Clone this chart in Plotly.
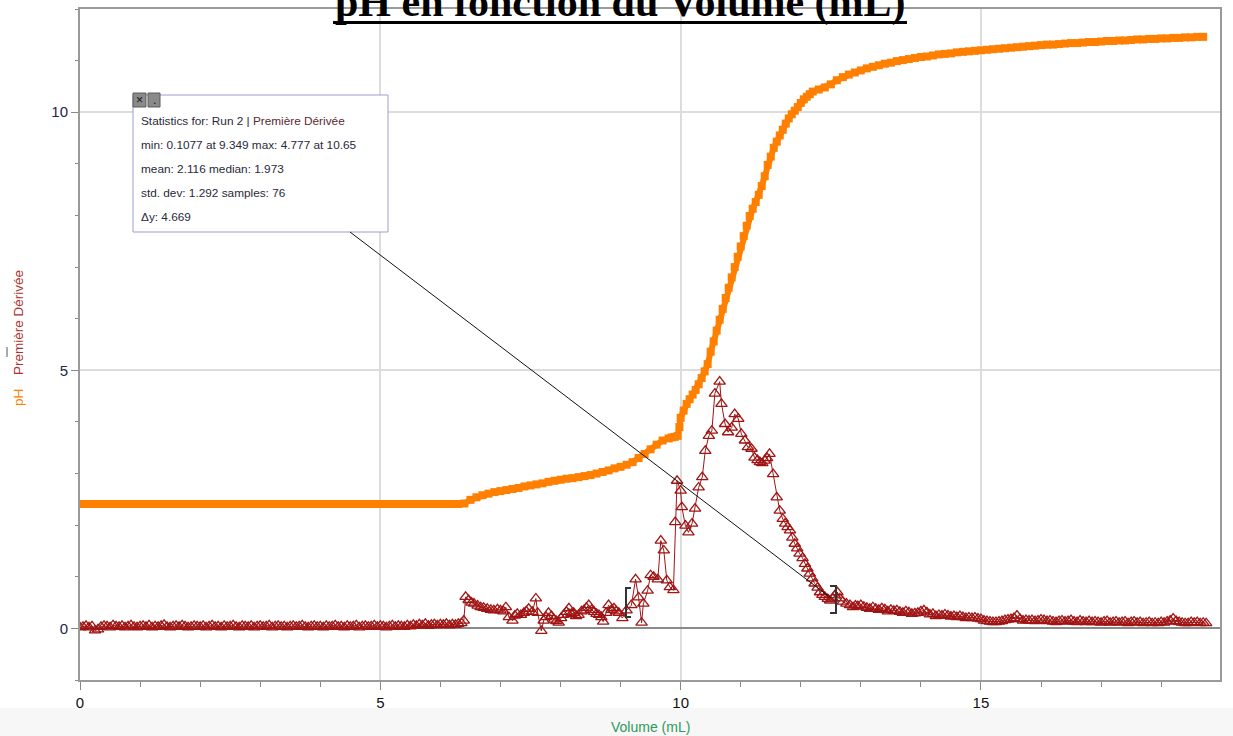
import plotly.graph_objects as go

# ---------------- data ----------------
vol_ph = [
    0.0, 0.1, 0.2, 0.3, 0.4, 0.5, 0.6, 0.7, 0.8, 0.9,
    1.0, 1.1, 1.2, 1.3, 1.4, 1.5, 1.6, 1.7, 1.8, 1.9,
    2.0, 2.1, 2.2, 2.3, 2.4, 2.5, 2.6, 2.7, 2.8, 2.9,
    3.0, 3.1, 3.2, 3.3, 3.4, 3.5, 3.6, 3.7, 3.8, 3.9,
    4.0, 4.1, 4.2, 4.3, 4.4, 4.5, 4.6, 4.7, 4.8, 4.9,
    5.0, 5.1, 5.2, 5.3, 5.4, 5.5, 5.6, 5.7, 5.8, 5.9,
    6.0, 6.1, 6.2, 6.3, 6.4, 6.5, 6.6, 6.7, 6.8, 6.9,
    7.0, 7.1, 7.2, 7.3, 7.4, 7.5, 7.6, 7.7, 7.8, 7.9,
    8.0, 8.1, 8.2, 8.3, 8.4, 8.5, 8.6, 8.7, 8.8, 8.9,
    9.0, 9.1, 9.2, 9.3, 9.4, 9.5, 9.6, 9.7, 9.8, 9.85,
    9.9, 9.95, 9.98, 10.0, 10.05, 10.1, 10.15, 10.2, 10.25, 10.3,
    10.35, 10.4, 10.45, 10.5, 10.55, 10.6, 10.65, 10.7, 10.75, 10.8,
    10.85, 10.9, 10.95, 11.0, 11.05, 11.1, 11.15, 11.2, 11.25, 11.3,
    11.35, 11.4, 11.45, 11.5, 11.55, 11.6, 11.65, 11.7, 11.75, 11.8,
    11.85, 11.9, 11.95, 12.0, 12.05, 12.1, 12.15, 12.2, 12.3, 12.4,
    12.5, 12.6, 12.7, 12.8, 12.9, 13.0, 13.1, 13.2, 13.3, 13.4,
    13.5, 13.6, 13.7, 13.8, 13.9, 14.0, 14.1, 14.2, 14.3, 14.4,
    14.5, 14.6, 14.7, 14.8, 14.9, 15.0, 15.1, 15.2, 15.3, 15.4,
    15.5, 15.6, 15.7, 15.8, 15.9, 16.0, 16.1, 16.2, 16.3, 16.4,
    16.5, 16.6, 16.7, 16.8, 16.9, 17.0, 17.1, 17.2, 17.3, 17.4,
    17.5, 17.6, 17.7, 17.8, 17.9, 18.0, 18.1, 18.2, 18.3, 18.4,
    18.5, 18.6, 18.7,
]
ph = [
    2.41, 2.41, 2.41, 2.41, 2.41, 2.41, 2.41, 2.41, 2.41, 2.41,
    2.41, 2.41, 2.41, 2.41, 2.41, 2.41, 2.41, 2.41, 2.41, 2.41,
    2.41, 2.41, 2.41, 2.41, 2.41, 2.41, 2.41, 2.41, 2.41, 2.41,
    2.41, 2.41, 2.41, 2.41, 2.41, 2.41, 2.41, 2.41, 2.41, 2.41,
    2.41, 2.41, 2.41, 2.41, 2.41, 2.41, 2.41, 2.41, 2.41, 2.41,
    2.41, 2.41, 2.41, 2.41, 2.41, 2.41, 2.41, 2.41, 2.41, 2.41,
    2.41, 2.41, 2.41, 2.41, 2.42, 2.49, 2.54, 2.58, 2.61, 2.64,
    2.66, 2.68, 2.70, 2.72, 2.75, 2.77, 2.79, 2.81, 2.84, 2.86,
    2.88, 2.90, 2.91, 2.93, 2.95, 2.97, 3.00, 3.03, 3.06, 3.10,
    3.13, 3.17, 3.22, 3.30, 3.38, 3.47, 3.56, 3.64, 3.68, 3.70,
    3.71, 3.73, 3.90, 4.08, 4.22, 4.35, 4.44, 4.53, 4.62, 4.73,
    4.85, 4.98, 5.12, 5.36, 5.56, 5.77, 5.98, 6.19, 6.40, 6.60,
    6.80, 7.00, 7.20, 7.40, 7.60, 7.80, 7.99, 8.13, 8.26, 8.40,
    8.57, 8.76, 8.98, 9.14, 9.31, 9.43, 9.55, 9.66, 9.78, 9.88,
    9.96, 10.03, 10.10, 10.18, 10.25, 10.30, 10.35, 10.40, 10.44, 10.48,
    10.54, 10.62, 10.68, 10.73, 10.77, 10.81, 10.85, 10.88, 10.91, 10.94,
    10.96, 10.99, 11.01, 11.03, 11.05, 11.07, 11.08, 11.10, 11.12, 11.13,
    11.14, 11.16, 11.17, 11.18, 11.19, 11.20, 11.21, 11.22, 11.23, 11.24,
    11.25, 11.26, 11.27, 11.28, 11.29, 11.30, 11.31, 11.31, 11.32, 11.33,
    11.34, 11.34, 11.35, 11.36, 11.36, 11.37, 11.38, 11.38, 11.39, 11.39,
    11.40, 11.41, 11.41, 11.42, 11.42, 11.43, 11.43, 11.44, 11.44, 11.45,
    11.45, 11.46, 11.46,
]

vol_d = [
    0.00, 0.05, 0.10, 0.15, 0.20, 0.25, 0.30, 0.35, 0.40, 0.45,
    0.50, 0.55, 0.60, 0.65, 0.70, 0.75, 0.80, 0.85, 0.90, 0.95,
    1.00, 1.05, 1.10, 1.15, 1.20, 1.25, 1.30, 1.35, 1.40, 1.45,
    1.50, 1.55, 1.60, 1.65, 1.70, 1.75, 1.80, 1.85, 1.90, 1.95,
    2.00, 2.05, 2.10, 2.15, 2.20, 2.25, 2.30, 2.35, 2.40, 2.45,
    2.50, 2.55, 2.60, 2.65, 2.70, 2.75, 2.80, 2.85, 2.90, 2.95,
    3.00, 3.05, 3.10, 3.15, 3.20, 3.25, 3.30, 3.35, 3.40, 3.45,
    3.50, 3.55, 3.60, 3.65, 3.70, 3.75, 3.80, 3.85, 3.90, 3.95,
    4.00, 4.05, 4.10, 4.15, 4.20, 4.25, 4.30, 4.35, 4.40, 4.45,
    4.50, 4.55, 4.60, 4.65, 4.70, 4.75, 4.80, 4.85, 4.90, 4.95,
    5.00, 5.05, 5.10, 5.15, 5.20, 5.25, 5.30, 5.35, 5.40, 5.45,
    5.50, 5.55, 5.60, 5.65, 5.70, 5.75, 5.80, 5.85, 5.90, 5.95,
    6.00, 6.05, 6.10, 6.15, 6.20, 6.25, 6.30, 6.35,
    6.39, 6.42, 6.47, 6.52, 6.56, 6.62, 6.67, 6.72, 6.78, 6.84,
    6.89, 6.95, 7.0, 7.05, 7.09, 7.14, 7.2, 7.24, 7.28, 7.34, 7.39,
    7.43, 7.47, 7.53, 7.59, 7.62, 7.68, 7.72, 7.76, 7.8, 7.85, 7.89,
    7.93, 7.97, 8.01, 8.05, 8.1, 8.14, 8.18, 8.22, 8.26, 8.3, 8.35, 8.39,
    8.43, 8.47, 8.52, 8.56, 8.6, 8.64, 8.68, 8.71, 8.76, 8.8, 8.85, 8.89,
    8.93, 8.97, 9.03, 9.1, 9.18,
    9.25, 9.3, 9.35, 9.38, 9.45, 9.5, 9.55, 9.62, 9.67, 9.72,
    9.77, 9.82, 9.88, 9.91, 9.94, 10.0, 10.02, 10.08, 10.13, 10.19,
    10.24, 10.3, 10.36, 10.41, 10.47, 10.52, 10.57, 10.65, 10.68, 10.74,
    10.79, 10.85, 10.9, 10.96, 11.01, 11.07, 11.12, 11.18, 11.23, 11.28, 11.32,
    11.36, 11.4, 11.44, 11.48, 11.54, 11.6, 11.65, 11.7, 11.74, 11.78, 11.82,
    11.86, 11.9, 11.94, 11.98, 12.03, 12.07, 12.11, 12.15, 12.19, 12.23, 12.28,
    12.32, 12.36, 12.4, 12.45, 12.49, 12.53, 12.57, 12.61, 12.65, 12.7, 12.76,
    12.82, 12.87, 12.91,
    12.95, 13.00, 13.05, 13.10, 13.15, 13.20, 13.25, 13.30, 13.35, 13.40,
    13.45, 13.50, 13.55, 13.60, 13.65, 13.70, 13.75, 13.80, 13.85, 13.90,
    13.95, 14.00, 14.05, 14.10, 14.15, 14.20, 14.25, 14.30, 14.35, 14.40,
    14.45, 14.50, 14.55, 14.60, 14.65, 14.70, 14.75, 14.80, 14.85, 14.90,
    14.95, 15.00, 15.05, 15.10, 15.15, 15.20, 15.25, 15.30, 15.35, 15.40,
    15.45, 15.50, 15.55, 15.60, 15.65, 15.70, 15.75, 15.80, 15.85, 15.90,
    15.95, 16.00, 16.05, 16.10, 16.15, 16.20, 16.25, 16.30, 16.35, 16.40,
    16.45, 16.50, 16.55, 16.60, 16.65, 16.70, 16.75, 16.80, 16.85, 16.90,
    16.95, 17.00, 17.05, 17.10, 17.15, 17.20, 17.25, 17.30, 17.35, 17.40,
    17.45, 17.50, 17.55, 17.60, 17.65, 17.70, 17.75, 17.80, 17.85, 17.90,
    17.95, 18.00, 18.05, 18.10, 18.15, 18.20, 18.25, 18.30, 18.35, 18.40,
    18.45, 18.50, 18.55, 18.60, 18.65, 18.70, 18.75,
]
deriv = [
    0.02, 0.03, 0.05, 0.02, 0.04, -0.04, -0.02, 0.03, 0.05, 0.04,
    0.02, 0.06, 0.04, 0.03, 0.05, 0.02, 0.04, 0.06, 0.03, 0.02,
    0.04, 0.05, 0.03, 0.06, 0.02, 0.04, 0.03, 0.05, 0.07, 0.03,
    0.02, 0.04, 0.05, 0.03, 0.06, 0.04, 0.02, 0.03, 0.05, 0.04,
    0.03, 0.05, 0.02, 0.04, 0.06, 0.03, 0.04, 0.02, 0.05, 0.03,
    0.04, 0.06, 0.03, 0.02, 0.05, 0.04, 0.03, 0.05, 0.02, 0.04,
    0.05, 0.03, 0.04, 0.06, 0.02, 0.04, 0.05, 0.03, 0.04, 0.02,
    0.04, 0.05, 0.03, 0.04, 0.06, 0.03, 0.02, 0.04, 0.05, 0.03,
    0.04, 0.02, 0.05, 0.03, 0.04, 0.06, 0.03, 0.04, 0.02, 0.05,
    0.03, 0.04, 0.06, 0.02, 0.04, 0.05, 0.03, 0.04, 0.06, 0.03,
    0.05, 0.04, 0.02, 0.04, 0.06, 0.03, 0.05, 0.04, 0.03, 0.06,
    0.04, 0.07, 0.05, 0.08, 0.06, 0.09, 0.05, 0.07, 0.08, 0.06,
    0.08, 0.07, 0.09, 0.06, 0.08, 0.07, 0.09, 0.10,
    0.15, 0.61, 0.55, 0.50, 0.48, 0.44, 0.41, 0.40, 0.38, 0.36,
    0.35, 0.37, 0.35, 0.33, 0.41, 0.22, 0.15, 0.25, 0.28, 0.26, 0.30,
    0.33, 0.38, 0.32, 0.58, 0.30, -0.05, 0.15, 0.22, 0.30, 0.24, 0.17,
    0.14, 0.11, 0.20, 0.26, 0.32, 0.39, 0.28, 0.30, 0.24, 0.26, 0.33, 0.35,
    0.40, 0.45, 0.36, 0.32, 0.28, 0.26, 0.22, 0.13, 0.30, 0.45, 0.36, 0.39,
    0.33, 0.30, 0.20, 0.35, 0.45,
    0.95, 0.60, 0.11, 0.48, 0.73, 1.03, 1.00, 0.95, 1.70, 1.51,
    0.93, 0.80, 0.74, 2.06, 2.86, 2.67, 2.35, 1.99, 1.86, 2.03,
    2.32, 2.73, 2.93, 3.44, 3.73, 3.83, 4.55, 4.78, 4.35, 3.96,
    3.80, 3.89, 4.15, 4.06, 3.77, 3.64, 3.51, 3.48, 3.31, 3.26, 3.22,
    3.20, 3.25, 3.30, 3.38, 2.99, 2.54, 2.28, 2.12, 2.03, 1.96, 1.90,
    1.76, 1.64, 1.55, 1.45, 1.36, 1.25, 1.16, 1.06, 0.97, 0.87, 0.79,
    0.70, 0.65, 0.61, 0.57, 0.54, 0.58, 0.64, 0.70, 0.58, 0.52, 0.48,
    0.45, 0.41, 0.44,
    0.43, 0.45, 0.42, 0.40, 0.38, 0.41, 0.38, 0.36, 0.39, 0.37,
    0.33, 0.36, 0.34, 0.35, 0.32, 0.30, 0.33, 0.31, 0.28, 0.29,
    0.30, 0.33, 0.35, 0.31, 0.27, 0.28, 0.24, 0.26, 0.25, 0.27,
    0.25, 0.23, 0.24, 0.22, 0.24, 0.22, 0.20, 0.21, 0.20, 0.21,
    0.19, 0.18, 0.15, 0.14, 0.13, 0.12, 0.12, 0.13, 0.14, 0.16,
    0.17, 0.18, 0.20, 0.25, 0.18, 0.15, 0.16, 0.15, 0.16, 0.14,
    0.15, 0.17, 0.16, 0.14, 0.15, 0.13, 0.12, 0.14, 0.15, 0.13,
    0.14, 0.16, 0.13, 0.12, 0.15, 0.13, 0.12, 0.14, 0.12, 0.13,
    0.12, 0.11, 0.13, 0.14, 0.11, 0.12, 0.13, 0.11, 0.12, 0.13,
    0.10, 0.12, 0.13, 0.11, 0.12, 0.10, 0.11, 0.12, 0.10, 0.11,
    0.10, 0.12, 0.11, 0.13, 0.15, 0.19, 0.14, 0.12, 0.11, 0.10,
    0.10, 0.12, 0.11, 0.12, 0.10, 0.11, 0.10,
]

x_tick_vals = [0, 5, 10, 15]
y_tick_vals = [0, 5, 10]

title_text = "pH en fonction du Volume (mL)"
x_title = "Volume (mL)"
stats_lines = [
    "Statistics for: Run 2 | Première Dérivée",
    "min: 0.1077 at 9.349 max: 4.777 at 10.65",
    "mean: 2.116 median: 1.973",
    "std. dev: 1.292 samples: 76",
    "Δy: 4.669",
]

# ---------------- layout helpers (pixel -> paper) ----------------
W, H = 1233, 736
PL, PR, PT, PB = 80, 1220, 9, 680


def px(x):
    return (x - PL) / (PR - PL)


def py(y):
    return (PB - y) / (PB - PT)


ORANGE = "#ff8000"
DRED = "#a01414"

fig = go.Figure()
fig.add_trace(go.Scatter(
    x=vol_ph, y=ph, mode="lines+markers",
    line=dict(color=ORANGE, width=6),
    marker=dict(symbol="square", size=8, color=ORANGE),
    showlegend=False, hoverinfo="x+y",
))
fig.add_trace(go.Scatter(
    x=vol_d, y=deriv, mode="lines+markers",
    line=dict(color=DRED, width=1),
    marker=dict(symbol="triangle-up-open", size=10, color=DRED,
                line=dict(width=1.3, color=DRED)),
    showlegend=False, hoverinfo="x+y",
))

shapes = []
annotations = []

# light band at the bottom of the page
shapes.append(dict(type="rect", xref="paper", yref="paper",
                   x0=px(0), x1=px(W), y0=py(736), y1=py(708),
                   fillcolor="#f7f7f7", line=dict(width=0), layer="below"))

# stats box
shapes.append(dict(type="rect", xref="paper", yref="paper",
                   x0=px(133), x1=px(388), y0=py(232), y1=py(95),
                   fillcolor="white", line=dict(color="#9d9dd0", width=1),
                   layer="above"))
# small buttons
for bx0, bx1, lab in [(133, 146, "×"), (148, 160, ".")]:
    shapes.append(dict(type="rect", xref="paper", yref="paper",
                       x0=px(bx0), x1=px(bx1), y0=py(107), y1=py(93),
                       fillcolor="#8a8a8a", line=dict(color="#5a5a5a", width=1),
                       layer="above"))
    annotations.append(dict(xref="paper", yref="paper",
                            x=px((bx0 + bx1) / 2), y=py(100), text=lab,
                            showarrow=False, xanchor="center", yanchor="middle",
                            font=dict(family="Liberation Sans", size=12, color="#111")))

# connector line from stats box to selection
shapes.append(dict(type="line", xref="paper", yref="paper",
                   x0=px(350), y0=py(232), x1=px(831), y1=py(598),
                   line=dict(color="#111", width=1), layer="above"))

# selection brackets
BR = "#333333"
shapes.append(dict(type="path", xref="paper", yref="paper",
                   path=f"M {px(631)},{py(588)} L {px(626)},{py(588)} L {px(626)},{py(617)} L {px(631)},{py(617)}",
                   line=dict(color=BR, width=2), layer="above"))
shapes.append(dict(type="path", xref="paper", yref="paper",
                   path=f"M {px(830)},{py(586)} L {px(836)},{py(586)} L {px(836)},{py(613)} L {px(830)},{py(613)}",
                   line=dict(color=BR, width=2), layer="above"))

# small mark at far left
shapes.append(dict(type="line", xref="paper", yref="paper",
                   x0=px(7), x1=px(7), y0=py(347), y1=py(357),
                   line=dict(color="#555", width=1)))

# title underline
shapes.append(dict(type="line", xref="paper", yref="paper",
                   x0=px(333), x1=px(907), y0=py(22.5), y1=py(22.5),
                   line=dict(color="#000", width=3), layer="above"))

# stats texts
for i, line in enumerate(stats_lines):
    txt = line
    if i == 0:
        txt = "Statistics for: Run 2 | <span style='color:#5a2830'>Première Dérivée</span>"
    annotations.append(dict(xref="paper", yref="paper", x=px(139), y=py(121 + 24 * i),
                            text=txt, showarrow=False, xanchor="left", yanchor="middle",
                            font=dict(family="Liberation Sans", size=11.8, color="#2a2a3a")))

# title
annotations.append(dict(xref="paper", yref="paper", x=px(620), y=py(28),
                        text="<b>" + title_text + "</b>", showarrow=False,
                        xanchor="center", yanchor="bottom",
                        font=dict(family="Liberation Serif", size=42, color="#000")))

# y-axis titles
annotations.append(dict(xref="paper", yref="paper", x=px(18), y=py(323),
                        text="Première Dérivée", textangle=-90, showarrow=False,
                        xanchor="center", yanchor="middle",
                        font=dict(family="Liberation Sans", size=13.5, color="#b0302c")))
annotations.append(dict(xref="paper", yref="paper", x=px(18), y=py(398),
                        text="pH", textangle=-90, showarrow=False,
                        xanchor="center", yanchor="middle",
                        font=dict(family="Liberation Sans", size=13.5, color=ORANGE)))

# x-axis title
annotations.append(dict(xref="paper", yref="paper", x=px(650), y=py(727),
                        text=x_title, showarrow=False,
                        xanchor="center", yanchor="middle",
                        font=dict(family="Liberation Sans Narrow, Liberation Sans", size=14, color="#2e9a5c")))

fig.update_layout(
    width=W, height=H,
    margin=dict(l=PL, r=W - PR, t=PT, b=H - PB, pad=0, autoexpand=False),
    paper_bgcolor="white", plot_bgcolor="white",
    shapes=shapes, annotations=annotations,
    showlegend=False,
)

fig.update_xaxes(
    range=[0, 18.98], tickvals=x_tick_vals, ticktext=[str(v) for v in x_tick_vals],
    ticks="outside", ticklen=8, tickwidth=1, tickcolor="#888",
    minor=dict(dtick=1, tick0=0, ticks="outside", ticklen=5, tickcolor="#888", showgrid=False),
    showgrid=True, gridcolor="#dcdcdc", gridwidth=2,
    showline=True, linecolor="#9a9a9a", linewidth=2, mirror=True,
    zeroline=False,
    tickfont=dict(family="Liberation Sans Narrow, Liberation Sans", size=15, color="#111"),
)
fig.update_yaxes(
    range=[-1, 12], tickvals=y_tick_vals, ticktext=[str(v) for v in y_tick_vals],
    ticks="outside", ticklen=7, tickwidth=1, tickcolor="#888",
    minor=dict(dtick=1, tick0=0, ticks="outside", ticklen=3, tickcolor="#888", showgrid=False),
    showgrid=True, gridcolor="#dcdcdc", gridwidth=2,
    showline=True, linecolor="#9a9a9a", linewidth=2, mirror=True,
    zeroline=True, zerolinecolor="#8a8a8a", zerolinewidth=2,
    tickfont=dict(family="Liberation Sans Narrow, Liberation Sans", size=15, color="#1f2648"),
)

fig.write_html(
    "out.html",
    config={"displayModeBar": False},
    post_script="document.body.style.margin='0px';document.body.style.overflow='hidden';",
)
